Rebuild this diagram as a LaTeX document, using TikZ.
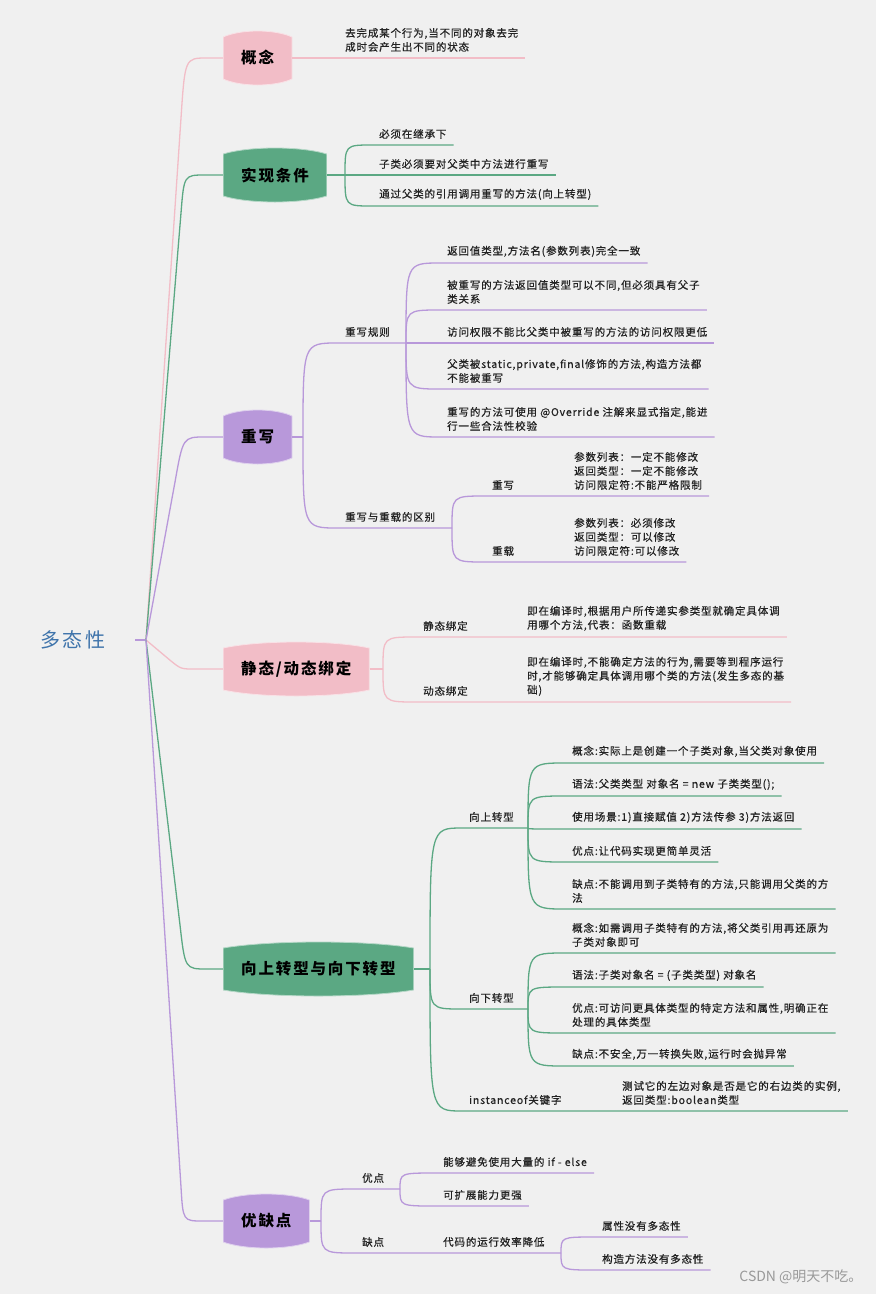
\documentclass[tikz,border=0pt]{standalone}
\usepackage{fontspec}
\newfontfamily\cjk[LetterSpace=8,FakeBold=0.6]{Noto Sans CJK SC}
\newfontfamily\cjkwide[LetterSpace=12]{Noto Sans CJK SC}
\newfontfamily\wmfont{Noto Sans CJK SC}
\usetikzlibrary{calc}
\definecolor{bgcol}{HTML}{F0F0F0}
\definecolor{pinkc}{HTML}{F2BDC7}
\definecolor{greenc}{HTML}{5BA883}
\definecolor{purplec}{HTML}{B898DA}
\definecolor{rootc}{HTML}{3F74AB}
\definecolor{textc}{HTML}{222222}

\begin{document}
\begin{tikzpicture}[x=1pt,y=-1pt,
  topic/.style={font=\cjkwide\bfseries\fontsize{15.5}{18}\selectfont, text=black,
    minimum height=58pt, inner xsep=18pt, anchor=west,
    path picture={
      \filldraw[fill=#1, draw=white!55!#1, line width=0.8pt]
        let \p1=(path picture bounding box.south west), \p2=(path picture bounding box.north east) in
        (\x1,\y1+8pt) -- (\x1,\y2-8pt)
        .. controls (0.75*\x1+0.25*\x2,\y2) and (0.25*\x1+0.75*\x2,\y2) .. (\x2,\y2-8pt)
        -- (\x2,\y1+8pt)
        .. controls (0.25*\x1+0.75*\x2,\y1) and (0.75*\x1+0.25*\x2,\y1) .. (\x1,\y1+8pt) -- cycle;
    }},
  leaf/.style={font=\cjk\fontsize{10.5}{14}\selectfont, text=textc, anchor=south west,
    inner xsep=7pt, inner ysep=6pt, align=left},
  pinkline/.style={draw=pinkc, line width=1.3pt},
  greenline/.style={draw=greenc, line width=1.3pt},
  purpleline/.style={draw=purplec, line width=1.3pt}]
\fill[bgcol] (0,0) rectangle (876,1294);
\useasboundingbox (0,0) rectangle (876,1294);

\node[font=\cjkwide\fontsize{20}{24}\selectfont, text=rootc] (root) at (73,640) {多态性};
\coordinate (rootout) at (135,640);
\coordinate (trunk) at (146,640);
\draw[purpleline] (rootout) -- (trunk);

\draw[pinkline] (trunk) -- (181,118) .. controls (185,58) .. (207,58) -- (223,58);
\draw[greenline] (trunk) -- (181,213) .. controls (184,175) .. (205,175) -- (223,175);
\draw[purpleline] (trunk) -- (175,482) .. controls (183,437) .. (205,437) -- (223,437);
\draw[pinkline] (trunk) -- (171,661) .. controls (181,669) .. (195,669) -- (223,669);
\draw[greenline] (trunk) -- (180,925) .. controls (185,969) .. (207,969) -- (223,969);
\draw[purpleline] (trunk) -- (181,1187) .. controls (183,1221) .. (203,1221) -- (223,1221);

\node[topic=pinkc] (gainian) at (223,58) {概念};
\node[topic=greenc] (tiaojian) at (223,175) {实现条件};
\node[topic=purplec] (chongxie) at (223,437) {重写};
\node[topic=pinkc] (bangding) at (223,669) {静态/动态绑定};
\node[topic=greenc] (zhuanxing) at (223,969) {向上转型与向下转型};
\node[topic=purplec] (youque) at (223,1221) {优缺点};

\node[leaf] (gn1) at (338,58) {去完成某个行为,当不同的对象去完\\成时会产生出不同的状态};
\draw[pinkline] (gainian.east) -- (gn1.south west) -- (gn1.south east);

\coordinate (tj) at (345,175);
\node[leaf] (tj1) at (372,145) {必须在继承下};
\node[leaf] (tj2) at (372,175) {子类必须要对父类中方法进行重写};
\node[leaf] (tj3) at (372,206) {通过父类的引用调用重写的方法(向上转型)};
\draw[greenline] (tiaojian.east) -- (tj);
\draw[greenline] (tj) .. controls (tj |- tj1.south west) .. (tj1.south west) -- (tj1.south east);
\draw[greenline] (tj) -- (tj2.south west) -- (tj2.south east);
\draw[greenline] (tj) .. controls (tj |- tj3.south west) .. (tj3.south west) -- (tj3.south east);

\coordinate (cx) at (303,437);
\coordinate (cxa) at (406,343);
\coordinate (cxb) at (452,528);
\node[leaf] (cx1) at (338,343) {重写规则};
\node[leaf] (cx2) at (338,528) {重写与重载的区别};
\draw[purpleline] (chongxie.east) -- (cx);
\draw[purpleline] (cx) .. controls (cx |- cx1.south west) .. (cx1.south west) -- (cxa);
\draw[purpleline] (cx) .. controls (cx |- cx2.south west) .. (cx2.south west) -- (cxb);

\node[leaf] (r1) at (440,263) {返回值类型,方法名(参数列表)完全一致};
\node[leaf] (r2) at (440,310) {被重写的方法返回值类型可以不同,但必须具有父子\\类关系};
\node[leaf] (r3) at (440,343) {访问权限不能比父类中被重写的方法的访问权限更低};
\node[leaf] (r4) at (440,389) {父类被static,private,final修饰的方法,构造方法都\\不能被重写};
\node[leaf] (r5) at (440,437) {重写的方法可使用 @Override 注解来显式指定,能进\\行一些合法性校验};
\draw[purpleline] (cxa) .. controls (cxa |- r1.south west) .. (r1.south west) -- (r1.south east);
\draw[purpleline] (cxa) .. controls (cxa |- r2.south west) .. (r2.south west) -- (r2.south east);
\draw[purpleline] (cxa) -- (r3.south west) -- (r3.south east);
\draw[purpleline] (cxa) .. controls (cxa |- r4.south west) .. (r4.south west) -- (r4.south east);
\draw[purpleline] (cxa) .. controls (cxa |- r5.south west) .. (r5.south west) -- (r5.south east);

\node[leaf] (w1) at (485,496) {重写};
\node[leaf] (w1c) at (567,496) {参数列表：一定不能修改\\返回类型：一定不能修改\\访问限定符:不能严格限制};
\node[leaf] (w2) at (485,562) {重载};
\node[leaf] (w2c) at (567,562) {参数列表：必须修改\\返回类型：可以修改\\访问限定符:可以修改};
\draw[purpleline] (cxb) .. controls (cxb |- w1.south west) .. (w1.south west) -- (w1c.south west) -- (w1c.south east);
\draw[purpleline] (cxb) .. controls (cxb |- w2.south west) .. (w2.south west) -- (w2c.south west) -- (w2c.south east);

\coordinate (bd) at (383,669);
\node[leaf] (b1) at (416,637) {静态绑定};
\node[leaf] (b1c) at (520,637) {即在编译时,根据用户所传递实参类型就确定具体调\\用哪个方法,代表：函数重载};
\node[leaf] (b2) at (416,702) {动态绑定};
\node[leaf] (b2c) at (520,702) {即在编译时,不能确定方法的行为,需要等到程序运行\\时,才能够确定具体调用哪个类的方法(发生多态的基\\础)};
\draw[pinkline] (bangding.east) -- (bd);
\draw[pinkline] (bd) .. controls (bd |- b1.south west) .. (b1.south west) -- (b1c.south west) -- (b1c.south east);
\draw[pinkline] (bd) .. controls (bd |- b2.south west) .. (b2.south west) -- (b2c.south west) -- (b2c.south east);

\coordinate (zx) at (430,969);
\coordinate (ua) at (528,828);
\coordinate (da) at (528,1009);
\node[leaf] (u) at (462,828) {向上转型};
\node[leaf] (d) at (462,1009) {向下转型};
\node[leaf] (i) at (462,1111) {instanceof关键字};
\node[leaf] (ic) at (615,1111) {测试它的左边对象是否是它的右边类的实例,\\返回类型:boolean类型};
\draw[greenline] (zhuanxing.east) -- (zx);
\draw[greenline] (zx) .. controls (zx |- u.south west) .. (u.south west) -- (ua);
\draw[greenline] (zx) .. controls (zx |- d.south west) .. (d.south west) -- (da);
\draw[greenline] (zx) .. controls (zx |- i.south west) .. (i.south west) -- (ic.south west) -- (ic.south east);

\node[leaf] (u1) at (565,763) {概念:实际上是创建一个子类对象,当父类对象使用};
\node[leaf] (u2) at (565,796) {语法:父类类型 对象名 = new 子类类型();};
\node[leaf] (u3) at (565,829) {使用场景:1)直接赋值 2)方法传参 3)方法返回};
\node[leaf] (u4) at (565,862) {优点:让代码实现更简单灵活};
\node[leaf] (u5) at (565,909) {缺点:不能调用到子类特有的方法,只能调用父类的方\\法};
\draw[greenline] (ua) .. controls (ua |- u1.south west) .. (u1.south west) -- (u1.south east);
\draw[greenline] (ua) .. controls (ua |- u2.south west) .. (u2.south west) -- (u2.south east);
\draw[greenline] (ua) .. controls (ua |- u3.south west) .. (u3.south west) -- (u3.south east);
\draw[greenline] (ua) .. controls (ua |- u4.south west) .. (u4.south west) -- (u4.south east);
\draw[greenline] (ua) .. controls (ua |- u5.south west) .. (u5.south west) -- (u5.south east);

\node[leaf] (d1) at (565,953) {概念:如需调用子类特有的方法,将父类引用再还原为\\子类对象即可};
\node[leaf] (d2) at (565,987) {语法:子类对象名 = (子类类型) 对象名};
\node[leaf] (d3) at (565,1033) {优点:可访问更具体类型的特定方法和属性,明确正在\\处理的具体类型};
\node[leaf] (d4) at (565,1066) {缺点:不安全,万一转换失败,运行时会抛异常};
\draw[greenline] (da) .. controls (da |- d1.south west) .. (d1.south west) -- (d1.south east);
\draw[greenline] (da) .. controls (da |- d2.south west) .. (d2.south west) -- (d2.south east);
\draw[greenline] (da) .. controls (da |- d3.south west) .. (d3.south west) -- (d3.south east);
\draw[greenline] (da) .. controls (da |- d4.south west) .. (d4.south west) -- (d4.south east);

\coordinate (yq) at (321,1221);
\coordinate (ya) at (400,1189);
\coordinate (yb) at (561,1253);
\node[leaf] (y1) at (355,1189) {优点};
\node[leaf] (y2) at (355,1253) {缺点};
\node[leaf] (y2c) at (436,1253) {代码的运行效率降低};
\draw[purpleline] (youque.east) -- (yq);
\draw[purpleline] (yq) .. controls (yq |- y1.south west) .. (y1.south west) -- (ya);
\draw[purpleline] (yq) .. controls (yq |- y2.south west) .. (y2.south west) -- (y2c.south west) -- (yb);

\node[leaf] (y11) at (436,1173) {能够避免使用大量的 if - else};
\node[leaf] (y12) at (436,1206) {可扩展能力更强};
\draw[purpleline] (ya) .. controls (ya |- y11.south west) .. (y11.south west) -- (y11.south east);
\draw[purpleline] (ya) .. controls (ya |- y12.south west) .. (y12.south west) -- (y12.south east);

\node[leaf] (y21) at (595,1237) {属性没有多态性};
\node[leaf] (y22) at (595,1270) {构造方法没有多态性};
\draw[purpleline] (yb) .. controls (yb |- y21.south west) .. (y21.south west) -- (y21.south east);
\draw[purpleline] (yb) .. controls (yb |- y22.south west) .. (y22.south west) -- (y22.south east);

\node[font=\wmfont\fontsize{14}{16}\selectfont, text=black!40, anchor=east] (wm) at (866,1277) {CSDN @明天不吃。};

\end{tikzpicture}
\end{document}
